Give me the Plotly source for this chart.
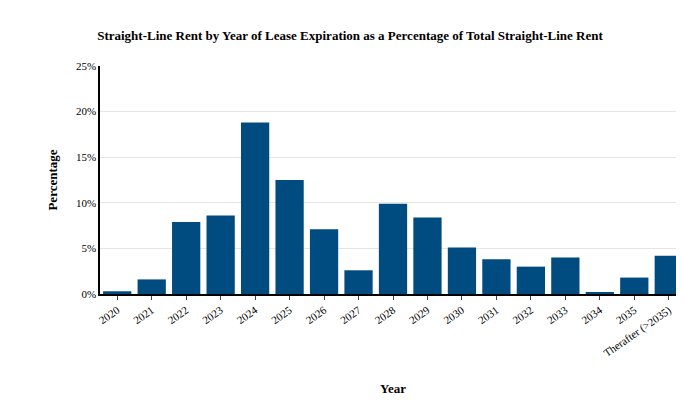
import plotly.graph_objects as go

years = ["2020","2021","2022","2023","2024","2025","2026","2027","2028","2029","2030","2031","2032","2033","2034","2035","Therafter (>2035)"]
pct = [0.3,1.6,7.9,8.6,18.8,12.5,7.1,2.6,9.9,8.4,5.1,3.8,3.0,4.0,0.2,1.8,4.2]

fig = go.Figure(go.Bar(x=years, y=pct, marker_color="#004b80", marker_line_width=0, width=0.82))
fig.update_layout(
    width=684, height=409, template="plotly_white",
    font=dict(family="Liberation Serif, Times New Roman, serif", size=11, color="black"),
    title=dict(text="<b>Straight-Line Rent by Year of Lease Expiration as a Percentage of Total Straight-Line Rent</b>",
               x=0.5, xanchor="center", y=0.945, font=dict(size=13)),
    margin=dict(l=92, r=6, t=58, b=123, autoexpand=False),
    showlegend=False, plot_bgcolor="white",
)
fig.update_xaxes(title=dict(text="<b>Year</b>", font=dict(size=13), standoff=25), tickangle=-35,
                 showline=True, linecolor="black", linewidth=1.5, ticks="outside", ticklen=4)
fig.update_yaxes(title=dict(text="<b>Percentage</b>", font=dict(size=13)), range=[0,25], dtick=5,
                 ticksuffix="%", showline=True, linecolor="black", linewidth=1.5,
                 gridcolor="#e5e5e5", zeroline=False)
fig.write_html("out.html")
